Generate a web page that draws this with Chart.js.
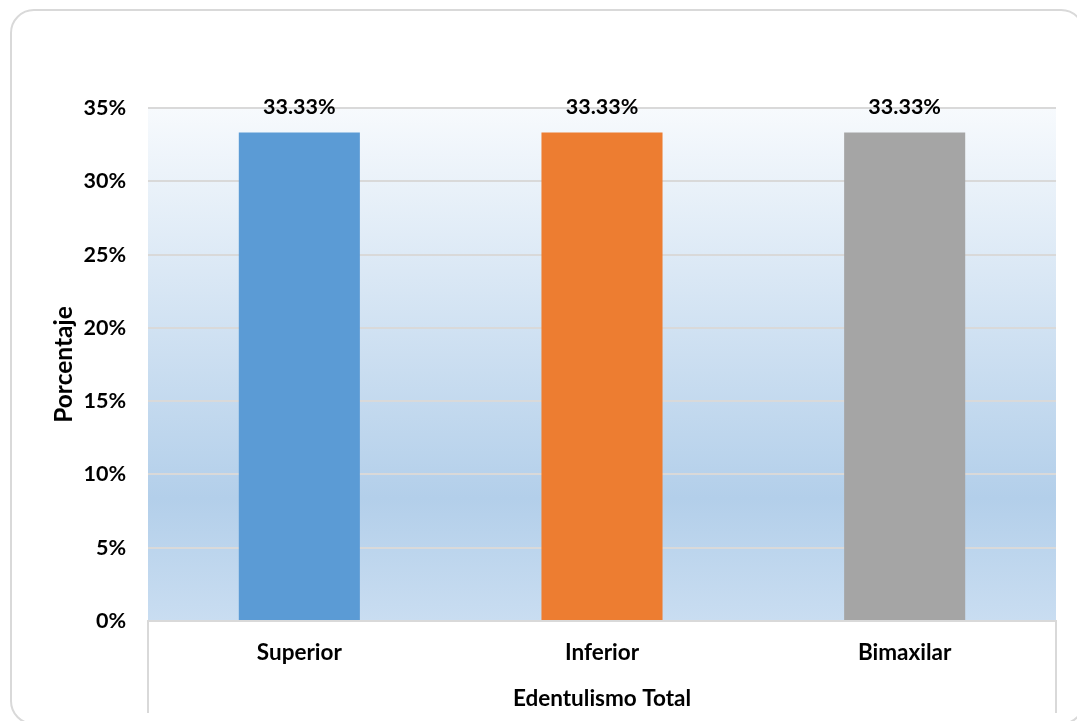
<!DOCTYPE html>
<html>
<head>
<meta charset="utf-8">
<script src="https://cdn.jsdelivr.net/npm/chart.js@4/dist/chart.umd.min.js"></script>
<style>
  html, body { margin: 0; padding: 0; background: #fff; }
  #wrap { position: relative; width: 1077px; height: 721px; overflow: hidden; }
  #frame {
    position: absolute; left: 10px; top: 9px; width: 1075px; height: 716px;
    border: 2px solid #d9d9d9; border-radius: 24px; box-sizing: border-box;
    pointer-events: none;
  }
  canvas { position: absolute; left: 0; top: 0; }
</style>
</head>
<body>
<div id="wrap">
  <canvas id="myChart" width="1077" height="721"></canvas>
  <div id="frame"></div>
</div>
<script>
// datos
const categorias = ['Superior', 'Inferior', 'Bimaxilar'];
const porcentajes = [33.33, 33.33, 33.33];
const etiquetas = ['33.33%', '33.33%', '33.33%'];
const colores = ['#5b9bd5', '#ed7d31', '#a5a5a5'];
const ejeY = 'Porcentaje';
const ejeX = 'Edentulismo Total';

const fuente = 'Lato, "Open Sans", sans-serif';

// fondo degradado del area de trazado
const fondoPlugin = {
    id: 'fondo',
    beforeDraw(chart) {
        const a = chart.chartArea;
        const ctx = chart.ctx;
        const g = ctx.createLinearGradient(0, a.top, 0, a.bottom);
        g.addColorStop(0, '#f7fafd');
        g.addColorStop(0.76, '#b3cfea');
        g.addColorStop(1, '#c9ddf1');
        ctx.save();
        ctx.fillStyle = g;
        ctx.fillRect(a.left, a.top, a.right - a.left, a.bottom - a.top);
        ctx.restore();
    },
    afterDraw(chart) {
        // lineas verticales bajo el eje de categorias
        const a = chart.chartArea;
        const ctx = chart.ctx;
        ctx.save();
        ctx.strokeStyle = '#d9d9d9';
        ctx.lineWidth = 2;
        ctx.beginPath();
        ctx.moveTo(a.left, a.bottom);
        ctx.lineTo(a.left, a.bottom + 92);
        ctx.moveTo(a.right, a.bottom);
        ctx.lineTo(a.right, a.bottom + 92);
        ctx.stroke();
        ctx.restore();
    }
};

// etiquetas de valor encima de las barras
const etiquetasPlugin = {
    id: 'etiquetas',
    afterDatasetsDraw(chart) {
        const ctx = chart.ctx;
        const meta = chart.getDatasetMeta(0);
        ctx.save();
        ctx.font = 'bold 21.5px ' + fuente;
        ctx.fillStyle = '#000';
        ctx.textAlign = 'center';
        ctx.textBaseline = 'middle';
        meta.data.forEach((bar, i) => {
            ctx.fillText(etiquetas[i], bar.x, bar.y - 25);
        });
        ctx.restore();
    }
};

const ctx = document.getElementById('myChart').getContext('2d');
const myChart = new Chart(ctx, {
    type: 'bar',
    data: {
        labels: categorias,
        datasets: [{
            data: porcentajes,
            backgroundColor: colores,
            borderWidth: 0,
            barPercentage: 0.4,
            categoryPercentage: 1.0
        }]
    },
    options: {
        responsive: false,
        animation: false,
        layout: { padding: { left: 11, top: 108, right: 21, bottom: 0 } },
        plugins: {
            legend: { display: false },
            tooltip: { enabled: false }
        },
        scales: {
            x: {
                grid: { display: false, drawTicks: false },
                border: { display: true, color: '#d9d9d9', width: 2 },
                ticks: {
                    color: '#000',
                    padding: 18,
                    font: { family: fuente, size: 22.5, weight: 'bold' }
                },
                title: {
                    display: true,
                    text: ejeX,
                    color: '#000',
                    padding: { top: 0, bottom: 9 },
                    font: { family: fuente, size: 22.5, weight: 'bold' }
                },
                afterFit(scale) { scale.height = 100; }
            },
            y: {
                min: 0,
                max: 35,
                grid: { color: '#d9d9d9', lineWidth: 2, drawTicks: false },
                border: { display: false },
                ticks: {
                    stepSize: 5,
                    color: '#000',
                    padding: 22,
                    font: { family: fuente, size: 21.5, weight: 'bold' },
                    callback: v => v + '%'
                },
                title: {
                    display: true,
                    text: ejeY,
                    color: '#000',
                    padding: { top: 38, bottom: 0 },
                    font: { family: fuente, size: 24.5, weight: 'bold' }
                },
                afterFit(scale) { scale.width = 137; }
            }
        }
    },
    plugins: [fondoPlugin, etiquetasPlugin]
});
</script>
</body>
</html>
